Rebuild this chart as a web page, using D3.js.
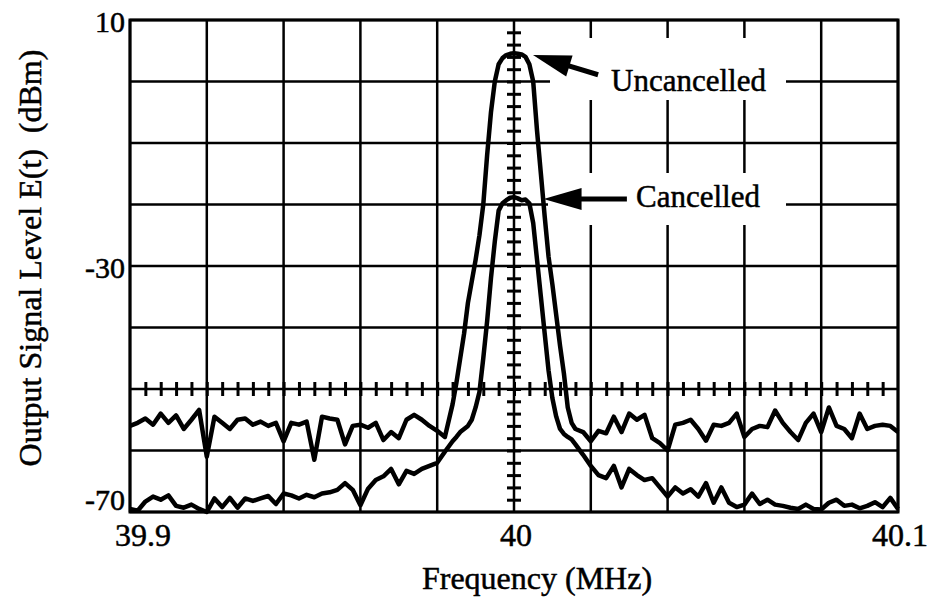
<!DOCTYPE html>
<html>
<head>
<meta charset="utf-8">
<script src="https://cdn.jsdelivr.net/npm/d3@7"></script>
<style>
body { margin: 0; background: #fff; }
svg text { font-family: "Liberation Serif", "Times New Roman", serif; fill: #000; stroke: #000; stroke-width: 0.5px; }
</style>
</head>
<body>
<svg id="my_container" width="929" height="599"></svg>
<script>
// frequency samples (MHz) - finer around the carrier
var freqMHz = [
    39.900, 39.902, 39.904, 39.906, 39.908, 39.910, 39.912, 39.914, 39.916, 39.918,
    39.920, 39.922, 39.924, 39.926, 39.928, 39.930, 39.932, 39.934, 39.936, 39.938,
    39.940, 39.942, 39.944, 39.946, 39.948, 39.950, 39.952, 39.954, 39.956, 39.958,
    39.960, 39.962, 39.964, 39.966, 39.968, 39.970, 39.972, 39.974, 39.976, 39.978,
    39.980, 39.982, 39.984,
    39.985, 39.986, 39.987, 39.988, 39.989, 39.990, 39.991, 39.992, 39.993, 39.994,
    39.995, 39.996, 39.997, 39.998, 39.999, 40.000, 40.001, 40.002, 40.003, 40.004,
    40.005, 40.006, 40.007, 40.008, 40.009, 40.010, 40.011, 40.012, 40.013, 40.014,
    40.015,
    40.016, 40.018, 40.020, 40.022, 40.024, 40.026, 40.028, 40.030, 40.032, 40.034,
    40.036, 40.038, 40.040, 40.042, 40.044, 40.046, 40.048, 40.050, 40.052, 40.054,
    40.056, 40.058, 40.060, 40.062, 40.064, 40.066, 40.068, 40.070, 40.072, 40.074,
    40.076, 40.078, 40.080, 40.082, 40.084, 40.086, 40.088, 40.090, 40.092, 40.094,
    40.096, 40.098, 40.100
];

// output level (dBm)
var uncancelled = [
    -56, -55.5, -54.8, -55.8, -54, -55.5, -54.3, -56.5, -55, -53.4,
    -61, -54.5, -55.5, -56.5, -55, -54.8, -55.8, -55.3, -56, -55.5,
    -58.5, -55.5, -55.8, -55.3, -61.5, -54.5, -54.8, -55, -59, -56,
    -55.8, -56.3, -55.5, -58.3, -57, -58, -55, -54.2, -55, -56,
    -56.8, -57.8, -52.5,
    -49, -45, -41, -36, -32.5, -29, -25, -20, -12, -5,
    0, 2.8, 3.8, 4.3, 4.5, 4.6, 4.5, 4.4, 4.0, 2.8,
    0, -8, -15, -22, -28.5, -33, -38, -43, -47.5, -53,
    -55.5,
    -56.5, -57, -58.5, -56.8, -57.2, -54.5, -57, -54, -55, -54.2,
    -58, -58.8, -60, -55.8, -55.5, -55, -56.5, -58.4, -55.8, -56,
    -55.5, -54, -57.8, -56.5, -56, -56.2, -53.5, -55.5, -57, -58.3,
    -55.5, -54, -57, -53, -56, -56.5, -58, -54, -56.5, -56,
    -55.8, -56, -57
];

var cancelled = [
    -69.5, -69.8, -68.3, -67.5, -68, -67.3, -69, -69.3, -68.8, -69.5,
    -70, -67.8, -69.2, -67.7, -69.3, -67.8, -68.2, -67.8, -67.4, -68.7,
    -67, -67.3, -67.8, -67.2, -67.6, -67, -66.8, -66.4, -65.3, -66.4,
    -68.9, -66.2, -64.8, -64.2, -63, -65.5, -63.3, -63.8, -63, -62.5,
    -62, -60.2, -58.5,
    -57.8, -57, -56.5, -56, -55, -53, -50.5, -45, -39, -32,
    -26, -21, -19.8, -19.3, -18.9, -18.8, -19, -19.3, -19.2, -19.8,
    -23, -29, -35, -41, -47, -51.5, -54.5, -56.5, -57.3, -57.8,
    -58.2,
    -59, -60.7, -62.5, -64, -64.5, -62.5, -66, -63, -64, -64.8,
    -64.5, -66, -67.5, -66, -67, -66.3, -67.5, -65.3, -68.5, -66,
    -68.5, -69.2, -68.8, -67, -68.7, -68, -68.8, -69, -69.3, -69.5,
    -68.8, -69.5, -69.6, -68.5, -68, -69, -68.8, -69.4, -69, -68.4,
    -69.2, -67.7, -69.5
];

var xTickLabels = [39.9, 40, 40.1];
var yTickLabels = [10, -30, -70];

var svg = d3.select("#my_container");

var xScale = d3.scaleLinear().domain([39.9, 40.1]).range([130, 898]);
var yScale = d3.scaleLinear().domain([-70, 10]).range([512, 20]);

// grid
svg.append("g").selectAll("line")
    .data(xScale.ticks(10))
    .enter()
    .append("line")
    .attr("x1", function(d){ return xScale(d); })
    .attr("x2", function(d){ return xScale(d); })
    .attr("y1", yScale(10))
    .attr("y2", yScale(-70))
    .attr("stroke", "#000")
    .attr("stroke-width", 2.5);

svg.append("g").selectAll("line")
    .data(yScale.ticks(8))
    .enter()
    .append("line")
    .attr("x1", xScale(39.9))
    .attr("x2", xScale(40.1))
    .attr("y1", function(d){ return yScale(d); })
    .attr("y2", function(d){ return yScale(d); })
    .attr("stroke", "#000")
    .attr("stroke-width", 2.5);

svg.append("rect")
    .attr("x", xScale(39.9))
    .attr("y", yScale(10))
    .attr("width", xScale(40.1) - xScale(39.9))
    .attr("height", yScale(-70) - yScale(10))
    .attr("fill", "none")
    .attr("stroke", "#000")
    .attr("stroke-width", 3);

// small ticks on the centre cross
var minorY = d3.range(-68, 10, 2);
var minorX = d3.range(1, 50).map(function(i){ return 39.9 + i * 0.004; });

[d3.axisLeft, d3.axisRight].forEach(function(ax){
    svg.append("g")
        .attr("class", "minor")
        .attr("transform", "translate(" + xScale(40) + ",0)")
        .call(ax(yScale).tickValues(minorY).tickSize(7).tickFormat(""));
});
[d3.axisTop, d3.axisBottom].forEach(function(ax){
    svg.append("g")
        .attr("class", "minor")
        .attr("transform", "translate(0," + yScale(-50) + ")")
        .call(ax(xScale).tickValues(minorX).tickSize(7).tickFormat(""));
});
svg.selectAll(".minor .domain").remove();
svg.selectAll(".minor line").attr("stroke", "#000").attr("stroke-width", 3);

// white boxes behind the labels
svg.append("rect").attr("x", 550).attr("y", 38).attr("width", 236).attr("height", 62).attr("fill", "#fff");
svg.append("rect").attr("x", 548).attr("y", 173).attr("width", 238).attr("height", 52).attr("fill", "#fff");

// traces
var line = d3.line()
    .x(function(d, i){ return xScale(freqMHz[i]); })
    .y(function(d){ return yScale(d); });

[uncancelled, cancelled].forEach(function(series){
    svg.append("path")
        .attr("d", line(series))
        .attr("fill", "none")
        .attr("stroke", "#000")
        .attr("stroke-width", 4.5)
        .attr("stroke-linejoin", "round");
});

// arrows
function arrow(tipX, tipY, tailX, tailY){
    var dx = tailX - tipX, dy = tailY - tipY;
    var len = Math.sqrt(dx * dx + dy * dy);
    var ux = dx / len, uy = dy / len;
    var bx = tipX + ux * 38, by = tipY + uy * 38;
    var nx = -uy * 11, ny = ux * 11;
    svg.append("line")
        .attr("x1", bx - ux * 4).attr("y1", by - uy * 4)
        .attr("x2", tailX).attr("y2", tailY)
        .attr("stroke", "#000")
        .attr("stroke-width", 5);
    svg.append("polygon")
        .attr("points", [[tipX, tipY], [bx + nx, by + ny], [bx - nx, by - ny]].join(" "))
        .attr("fill", "#000");
}
arrow(xScale(40.00495), yScale(4.3), xScale(40.0219), yScale(1.1));
arrow(xScale(40.0077), yScale(-19.1), xScale(40.0294), yScale(-19.1));

svg.append("text").attr("x", 611).attr("y", 91).attr("font-size", 31).text("Uncancelled");
svg.append("text").attr("x", 636).attr("y", 207).attr("font-size", 31).text("Cancelled");

// tick labels
svg.selectAll(".ylab")
    .data(yTickLabels)
    .enter()
    .append("text")
    .attr("class", "ylab")
    .attr("x", 125)
    .attr("y", function(d){ return Math.min(yScale(d) + 12, 510); })
    .attr("text-anchor", "end")
    .attr("font-size", 30)
    .text(function(d){ return d; });

svg.selectAll(".xlab")
    .data(xTickLabels)
    .enter()
    .append("text")
    .attr("class", "xlab")
    .attr("x", function(d, i){ return i == 0 ? xScale(d) - 15 : xScale(d) + 2; })
    .attr("y", 546)
    .attr("text-anchor", function(d, i){ return i == 0 ? "start" : "middle"; })
    .attr("font-size", 32)
    .text(function(d){ return d; });

// axis titles
svg.append("text")
    .attr("x", 537)
    .attr("y", 589)
    .attr("text-anchor", "middle")
    .attr("font-size", 32)
    .text("Frequency (MHz)");

svg.append("text")
    .attr("transform", "translate(41,258) rotate(-90)")
    .attr("text-anchor", "middle")
    .attr("font-size", 32)
    .style("white-space", "pre")
    .text("Output Signal Level E(t)  (dBm)");
</script>
</body>
</html>
